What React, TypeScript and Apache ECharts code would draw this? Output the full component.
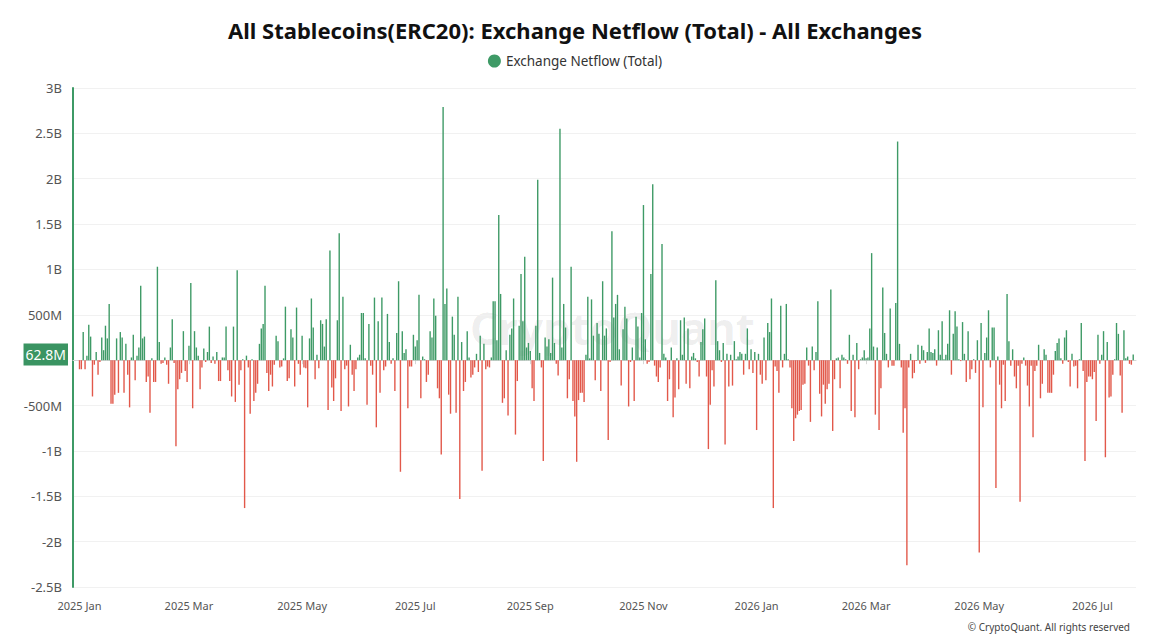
import React, { useEffect, useRef } from "react";
import * as echarts from "echarts";

// Daily stablecoin (ERC20) netflow into all exchanges, in billions of USD.
const jan2025 = [-0.1, -0.1, 0.31, -0.1, 0.05, 0.39, 0.26, -0.4, -0.05, 0.09, -0.16, -0.02, 0.25, 0.11, 0.38, 0.24, 0.62, -0.48, -0.48, -0.38, 0.24, -0.36, 0.31, 0.25, -0.36, 0.18, -0.16, -0.52, 0.03, 0.28, -0.22];
const feb2025 = [0.05, 0.14, 0.82, 0.24, 0.26, -0.24, -0.18, -0.58, 0.02, -0.24, -0.24, 1.03, 0.2, -0.04, -0.03, 0.03, -0.05, -0.26, 0.14, 0.45, -0.03, -0.95, -0.32, -0.21, -0.14, 0.32, -0.12, -0.24];
const mar2025 = [0.16, 0.85, -0.53, 0.32, 0.14, 0.05, -0.32, -0.08, 0.13, -0.02, 0.09, 0.37, -0.03, 0.04, -0.04, 0.09, -0.23, -0.23, 0.03, 0.03, 0.37, -0.11, -0.23, -0.4, 0.37, -0.46, 0.99, -0.27, -0.11, 0.01, -1.63];
const apr2025 = [0.05, -0.08, -0.59, 0.01, -0.45, -0.36, -0.26, 0.18, 0.35, 0.4, 0.82, -0.14, -0.34, -0.16, -0.29, -0.05, 0.27, 0.21, -0.08, -0.07, 0.02, 0.59, -0.23, -0.2, 0.34, 0.25, -0.29, 0.58, -0.04, -0.16];
const may2025 = [0.27, -0.08, -0.09, -0.52, 0.24, 0.68, 0.36, -0.21, 0.06, -0.09, 0.44, 0.4, 0.15, 0.45, -0.55, 1.21, -0.3, -0.45, -0.2, 0.44, 1.4, -0.56, 0.7, -0.1, -0.06, -0.51, 0.17, -0.16, -0.34, -0.1, 0.03];
const jun2025 = [0.06, 0.52, 0.52, 0.02, -0.49, 0.4, -0.06, -0.16, 0.69, -0.74, 0.43, -0.36, 0.69, -0.11, -0.07, 0.51, 0.2, -0.04, 0.02, -0.34, 0.3, 0.87, -1.23, 0.32, 0.08, 0.12, -0.53, -0.07, -0.07, 0.28];
const jul2025 = [0.15, 0.22, 0.72, -0.42, 0.04, 0.01, -0.24, -0.16, 0.32, 0.25, 0.68, 0.49, -0.31, -0.42, -1.04, 2.79, 0.62, 0.79, -0.38, -0.59, 0.48, 0.28, -0.58, 0.7, -1.53, 0.2, -0.34, -0.24, 0.32, 0.03, -0.19];
const aug2025 = [-0.16, -0.08, 0.07, -0.13, 0.27, -1.22, 0.18, -0.1, -0.07, -0.08, 0.03, 0.65, 0.65, 0.22, 1.6, 0.73, -0.47, -0.42, 0.11, -0.61, 0.28, 0.35, 0.68, -0.82, -0.23, 0.38, 0.95, 0.43, 1.14, 0.14, 0.19];
const sep2025 = [0.1, -0.31, -0.45, 0.38, 1.99, 0.08, -0.08, -1.11, 0.25, 0.15, 0.23, 0.08, 0.91, 0.19, -0.04, -0.17, 2.55, 0.14, 0.62, 0.36, -0.42, -0.21, 1.03, -0.45, -0.62, -1.12, -0.44, -0.36, -0.36, -0.46];
const oct2025 = [0.06, 0.7, 0.02, 0.67, 0.27, -0.22, 0.41, 0.29, -0.34, 0.87, 0.27, 0.35, -0.88, -0.02, 1.42, 0.47, 0.62, 0.72, 0.12, -0.28, 0.34, 0.59, 0.46, -0.51, -0.02, 0.14, -0.45, 0.48, 0.37, 0.03, 0.52];
const nov2025 = [1.71, 0.23, -0.04, -0.02, 0.95, 1.94, -0.06, -0.18, -0.24, -0.08, 1.28, 0.07, 0.03, -0.45, -0.21, 0.14, -0.63, -0.41, 0.02, -0.32, 0.44, 0.06, 0.47, -0.26, 0.35, -0.31, 0.04, 0.08, 0.02, -0.02];
const dec2025 = [-0.18, 0.2, 0.34, 0.46, -0.18, -0.98, -0.49, -0.11, -0.29, 0.88, 0.21, 0.11, -0.02, 0.19, -0.93, 0.07, -0.29, 0.06, -0.28, 0.21, 0.01, 0.04, 0.09, 0.07, -0.16, 0.07, 0.35, -0.1, 0.12, -0.14, 0.09];
const jan2026 = [-0.77, 0.07, -0.16, -0.26, 0.25, -0.22, 0.41, 0.31, 0.68, -1.63, -0.07, -0.12, -0.36, 0.6, -0.08, 0.07, 0.62, 0.01, -0.08, -0.53, -0.89, -0.64, -0.6, -0.56, -0.55, -0.27, -0.26, 0.14, -0.06, -0.68, 0.15];
const feb2026 = [-0.11, 0.09, 0.65, -0.37, -0.62, -0.27, -0.48, -0.32, -0.26, 0.78, -0.78, -0.21, 0.02, 0.03, -0.31, 0.06, 0.03, 0.01, -0.04, 0.28, -0.56, 0.06, -0.63, 0.19, -0.1, 0.01, 0.03, 0.11];
const mar2026 = [0.02, 0.03, 0.35, 1.18, 0.15, -0.6, 0.14, -0.77, -0.31, 0.8, 0.3, 0.07, -0.08, 0.57, -0.06, -0.06, 0.63, 2.41, 0.18, -0.08, -0.8, -0.53, -2.26, -0.08, 0.07, -0.2, -0.14, -0.01, 0.17, -0.04, 0.16];
const apr2026 = [0.11, -0.03, 0.09, 0.35, 0.09, 0.08, 0.12, -0.06, 0.33, 0.06, 0.43, 0.01, 0.06, 0.18, 0.55, -0.16, 0.29, 0.54, 0.37, 0.01, -0.01, 0.42, 0.07, -0.24, 0.32, -0.21, -0.1, 0.01, -0.14, 0.22];
const may2026 = [-2.12, 0.41, -0.52, 0.08, 0.25, 0.55, -0.08, 0.36, 0.36, -1.41, 0.04, -0.27, -0.53, -0.05, -0.45, 0.73, 0.21, -0.06, 0.12, -0.18, -0.31, -0.06, -1.56, -0.04, 0.03, -0.06, -0.28, -0.51, -0.06, -0.85, -0.12];
const jun2026 = [-0.06, 0.17, -0.42, -0.26, 0.12, 0.06, -0.36, -0.36, -0.36, -0.16, 0.1, 0.19, 0.24, 0.02, -0.04, 0.25, 0.33, -0.02, -0.29, 0.07, -0.07, -0.06, -0.31, 0.01, 0.41, -0.12, -1.11, -0.24, -0.18, -0.18];
const jul2026 = [-0.21, -0.13, -0.67, 0.28, -0.04, 0.06, 0.32, -1.07, 0.2, -0.41, -0.4, -0.16, 0.01, 0.41, 0.29, -0.17, -0.58, 0.33, 0.02, 0.04, -0.04, -0.05, 0.0628];

const monthlyBlocks = [
  jan2025, feb2025, mar2025, apr2025, may2025, jun2025, jul2025, aug2025, sep2025, oct2025, nov2025, dec2025,
  jan2026, feb2026, mar2026, apr2026, may2026, jun2026, jul2026,
];

const monthNames = ["Jan", "Feb", "Mar", "Apr", "May", "Jun", "Jul", "Aug", "Sep", "Oct", "Nov", "Dec"];
const labelledMonths = ["Jan", "Mar", "May", "Jul", "Sep", "Nov"];
const yTicks = { min: -2.5e9, max: 3e9, step: 5e8 };

const TITLE = "All Stablecoins(ERC20): Exchange Netflow (Total) - All Exchanges";
const SERIES_NAME = "Exchange Netflow (Total)";

const GREEN = "#3e9a66";
const RED = "#e2584a";
const DAY = 86400000;
const FIRST_DAY = Date.UTC(2025, 0, 1);
const PAD_BEFORE = 3;
const PAD_AFTER = 1;

function buildSeries() {
  const netflow = monthlyBlocks.flat();
  const dates: string[] = [];
  const bars: any[] = [];
  for (let i = -PAD_BEFORE; i < netflow.length + PAD_AFTER; i++) {
    dates.push(new Date(FIRST_DAY + i * DAY).toISOString().slice(0, 10));
    if (i >= 0 && i < netflow.length) {
      const v = netflow[i] * 1e9;
      bars.push({ value: v, itemStyle: { color: v >= 0 ? GREEN : RED } });
    } else {
      bars.push("-");
    }
  }
  return { dates, bars, latest: netflow[netflow.length - 1] * 1e9 };
}

function isLabelDay(date: string) {
  const [, m, d] = date.split("-");
  return d === "01" && labelledMonths.includes(monthNames[Number(m) - 1]);
}

function formatDate(date: string) {
  const [y, m] = date.split("-");
  return `${y} ${monthNames[Number(m) - 1]}`;
}

function formatValue(v: number) {
  if (v === 0) return "";
  const a = Math.abs(v);
  if (a >= 1e9) return `${v / 1e9}B`;
  return `${v / 1e6}M`;
}

export default function App() {
  const ref = useRef<HTMLDivElement>(null);

  useEffect(() => {
    if (!ref.current) return;
    const chart = echarts.init(ref.current, null, { renderer: "svg" });
    const { dates, bars, latest } = buildSeries();
    const font = "'Noto Sans', sans-serif";

    chart.setOption({
      animation: false,
      backgroundColor: "#ffffff",
      textStyle: { fontFamily: font },
      title: {
        text: TITLE,
        left: "center",
        top: 14,
        textStyle: { fontFamily: font, fontSize: 22, fontWeight: "bold", color: "#111" },
      },
      legend: {
        top: 49,
        left: "center",
        icon: "circle",
        itemWidth: 13,
        itemHeight: 13,
        itemGap: 6,
        textStyle: { fontFamily: font, fontSize: 13.5, color: "#333" },
        data: [{ name: SERIES_NAME, itemStyle: { color: GREEN } }],
      },
      grid: { left: 73, right: 14, top: 88, bottom: 57, containLabel: false },
      xAxis: {
        type: "category",
        data: dates,
        boundaryGap: true,
        axisLine: { show: true, lineStyle: { color: "#d6d6d6", width: 1 } },
        axisTick: { show: true, interval: (_i: number, v: string) => isLabelDay(v), alignWithLabel: true, length: 4, lineStyle: { color: "#d6d6d6" } },
        axisLabel: {
          interval: (_i: number, v: string) => isLabelDay(v),
          formatter: (v: string) => formatDate(v),
          fontSize: 11,
          color: "#555",
          margin: 13,
        },
        splitLine: { show: false },
      },
      yAxis: {
        type: "value",
        min: yTicks.min,
        max: yTicks.max,
        interval: yTicks.step,
        axisLine: { show: true, lineStyle: { color: GREEN, width: 2 } },
        axisTick: { show: false },
        axisLabel: { formatter: formatValue, fontSize: 13, color: "#555", margin: 11 },
        splitLine: { lineStyle: { color: "#f1f1f1" } },
      },
      graphic: [
        {
          type: "text",
          left: 470,
          top: 306,
          z: 0,
          silent: true,
          style: { text: "CryptoQuant", fontSize: 44, fontWeight: "bold", fontFamily: font, fill: "rgba(0,0,0,0.07)" },
        },
        {
          type: "text",
          right: 20,
          top: 622,
          silent: true,
          style: { text: "© CryptoQuant. All rights reserved", fontSize: 10, fontFamily: font, fill: "#444" },
        },
      ],
      series: [
        {
          name: SERIES_NAME,
          type: "bar",
          data: bars,
          barCategoryGap: "25%",
          z: 2,
          itemStyle: { color: GREEN },
          markLine: {
            silent: true,
            symbol: "none",
            lineStyle: { color: "transparent", width: 0 },
            label: {
              show: true,
              position: "start",
              distance: 5,
              formatter: () => `${(latest / 1e6).toFixed(1)}M`,
              backgroundColor: "#3a9462",
              color: "#ffffff",
              fontSize: 14,
              fontFamily: font,
              padding: [3, 2, 3, 2],
              lineHeight: 16,
            },
            data: [{ yAxis: latest }],
          },
        },
      ],
    });

    return () => chart.dispose();
  }, []);

  return (
    <div
      ref={ref}
      style={{ position: "fixed", left: 0, top: 0, width: 1150, height: 644, background: "#fff" }}
    />
  );
}
